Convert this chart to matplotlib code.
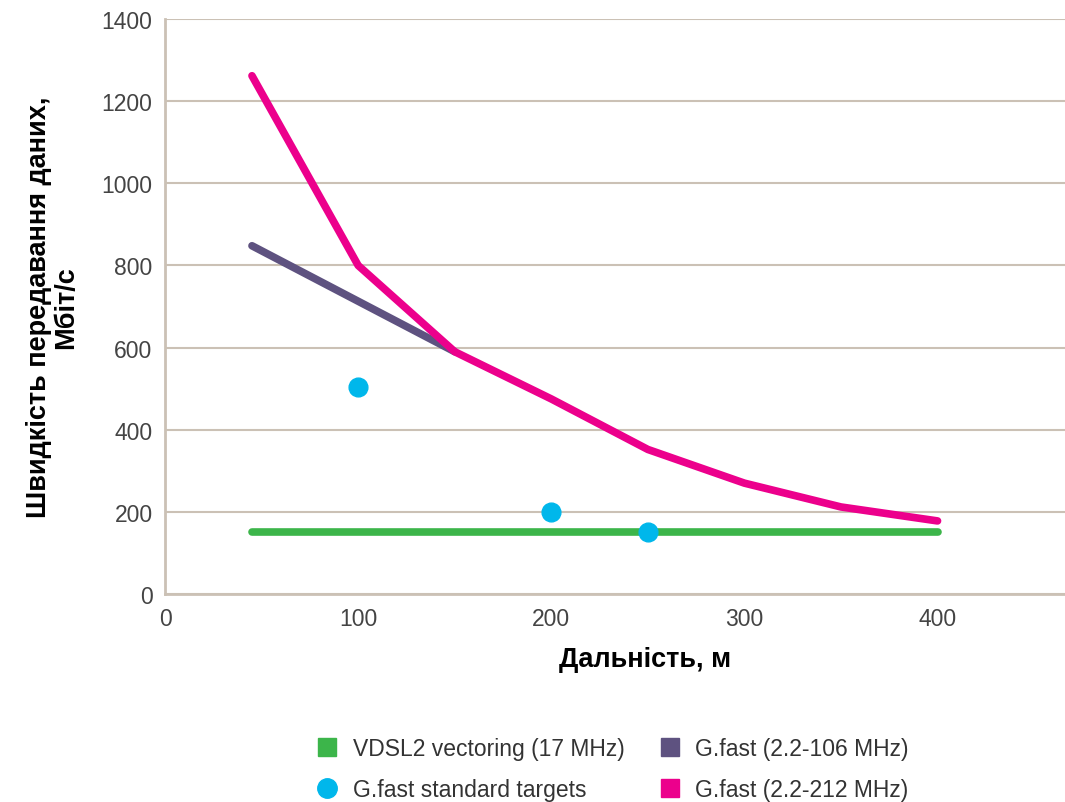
import matplotlib.pyplot as plt
from matplotlib.lines import Line2D

plt.rcParams['font.family'] = ['Liberation Sans', 'DejaVu Sans']

# data
vdsl_x = [45, 400]
vdsl_y = [150, 150]
gf106_x = [45, 150]
gf106_y = [848, 590]
gf212_x = [45, 100, 150, 200, 250, 300, 350, 400]
gf212_y = [1262, 800, 590, 475, 352, 270, 212, 178]
targets_x = [100, 200, 250]
targets_y = [505, 200, 150]

c_green = '#3cb54a'
c_cyan = '#00b7eb'
c_purple = '#5e5280'
c_pink = '#ec008c'
c_grid = '#cbc1b5'

fig = plt.figure(figsize=(10.65, 8.03), dpi=100)
ax = fig.add_axes([0.155, 0.259, 0.845, 0.716])

ax.plot(vdsl_x, vdsl_y, color=c_green, lw=5.5, solid_capstyle='round', zorder=3)
ax.plot(gf106_x, gf106_y, color=c_purple, lw=5.5, solid_capstyle='round', zorder=3)
ax.plot(gf212_x, gf212_y, color=c_pink, lw=5.5, solid_capstyle='round', zorder=4)
ax.plot(targets_x, targets_y, 'o', color=c_cyan, ms=13.5, zorder=5)

ax.set_xlim(0, 466)
ax.set_ylim(0, 1400)
ax.set_xticks([0, 100, 200, 300, 400])
ax.set_yticks(range(0, 1401, 200))
ax.yaxis.grid(True, color=c_grid, lw=1.5)
ax.set_axisbelow(True)
for s in ['top', 'right']:
    ax.spines[s].set_visible(False)
for s in ['left', 'bottom']:
    ax.spines[s].set_color(c_grid)
    ax.spines[s].set_linewidth(2)
ax.tick_params(length=0, labelsize=16.5, colors='#444444', pad=9)

ax.set_xlabel('Дальність, м', fontsize=19.5, fontweight='bold', labelpad=16)
ax.xaxis.set_label_coords(0.533, -0.09)
ax.set_ylabel('Швидкість передавання даних,\nМбіт/с', fontsize=19.5, fontweight='bold',
              labelpad=16, linespacing=1.05)

handles = [
    Line2D([], [], ls='', marker='s', color=c_green, ms=13),
    Line2D([], [], ls='', marker='o', color=c_cyan, ms=14),
    Line2D([], [], ls='', marker='s', color=c_purple, ms=13),
    Line2D([], [], ls='', marker='s', color=c_pink, ms=13),
]
labels = ['VDSL2 vectoring (17 MHz)', 'G.fast standard targets',
          'G.fast (2.2-106 MHz)', 'G.fast (2.2-212 MHz)']
leg = fig.legend(handles, labels, ncol=2, frameon=False, loc='center',
                 bbox_to_anchor=(0.574, 0.041), fontsize=16.5, columnspacing=1.4,
                 handletextpad=0.5, labelspacing=0.75, handlelength=1.2)
for t in leg.get_texts():
    t.set_color('#333333')

fig.savefig('out.png', dpi=100)
